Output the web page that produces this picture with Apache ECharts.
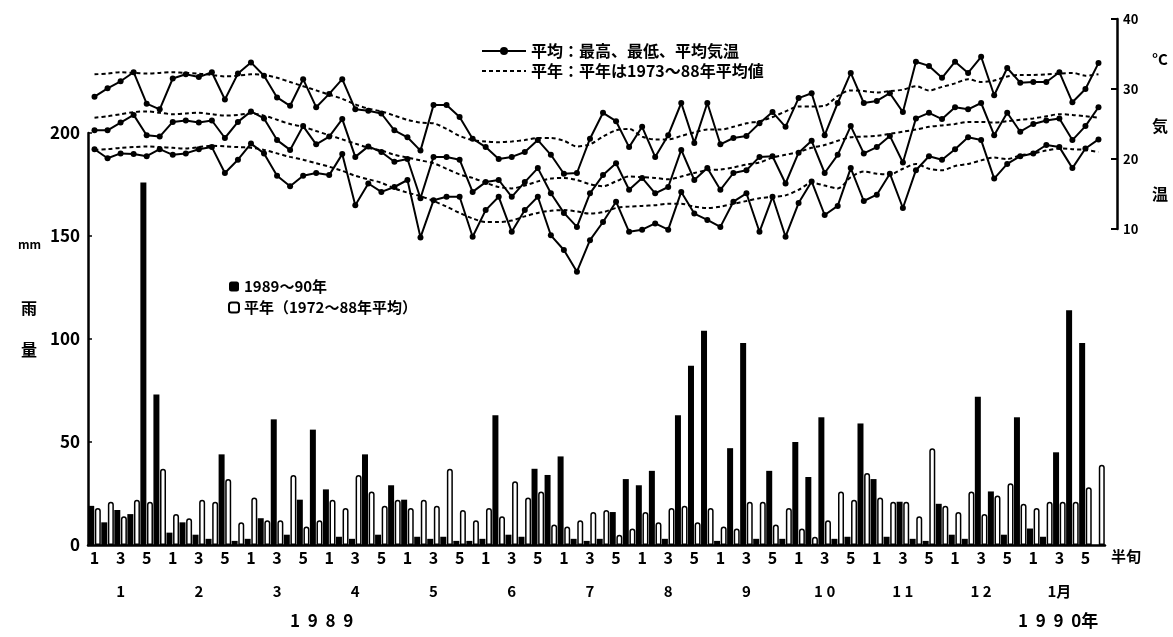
<!DOCTYPE html>
<html style="height:100%">
<head>
    <meta charset="utf-8">
    <title>半旬別 雨量・気温</title>
<script src="https://cdn.jsdelivr.net/npm/echarts@6/dist/echarts.min.js"></script>
</head>
<body style="height:100%;margin:0;background:#fff">
    <div id="main" style="width:1173px;height:637px"></div>
    <script type="text/javascript">
        // 13 months x 6 half-decades (半旬)
        var months = ['1', '2', '3', '4', '5', '6', '7', '8', '9', '1 0', '1 1', '1 2', '1月'];
        var periodTicks = ['1', '', '3', '', '5', ''];

        // 雨量 mm
        var rain = [
            19, 11, 17, 15, 176, 73,   6, 11, 5, 3, 44, 2,   3, 13, 61, 5, 22, 56,
            27, 4, 3, 44, 5, 29,   22, 4, 3, 4, 2, 2,   3, 63, 5, 4, 37, 34,
            43, 3, 2, 3, 16, 32,   29, 36, 3, 63, 87, 104,   2, 47, 98, 3, 36, 3,
            50, 33, 62, 3, 4, 59,   32, 4, 21, 3, 2, 20,   5, 3, 72, 26, 5, 62,
            8, 4, 45, 114, 98, 0
        ];
        var rainNormal = [
            18, 21, 14, 22, 21, 37,   15, 13, 22, 21, 32, 11,   23, 12, 12, 34, 9, 12,
            22, 18, 34, 26, 19, 22,   18, 22, 19, 37, 17, 12,   18, 14, 31, 23, 26, 10,
            9, 12, 16, 17, 5, 8,   16, 11, 18, 19, 11, 18,   9, 8, 21, 21, 10, 18,
            8, 4, 12, 26, 22, 35,   23, 21, 21, 14, 47, 19,   16, 26, 15, 24, 30, 20,
            18, 21, 21, 21, 28, 39
        ];

        // 気温 °C
        var tMax = [
            28.9, 30.1, 31.1, 32.4, 27.9, 27.1,   31.5, 32.1, 31.7, 32.4, 28.5, 32.2,
            33.8, 31.9, 28.8, 27.6, 31.4, 27.4,   29.3, 31.4, 27.1, 26.9, 26.5, 24.1,
            23.1, 21.2, 27.7, 27.7, 26.0, 22.9,   21.7, 20.0, 20.3, 21.0, 22.7, 20.6,
            17.9, 18.0, 22.9, 26.6, 25.4, 21.7,   24.6, 20.3, 23.4, 28.0, 22.3, 28.0,
            22.1, 23.0, 23.3, 25.1, 26.7, 24.6,   28.7, 29.4, 23.4, 28.0, 32.3, 28.0,
            28.3, 29.4, 26.7, 33.9, 33.3, 31.6,   33.9, 32.3, 34.6, 29.1, 33.0, 30.9,
            31.0, 31.0, 32.4, 28.1, 30.0, 33.7
        ];
        var tMean = [
            24.1, 24.1, 25.2, 26.3, 23.4, 23.2,   25.3, 25.5, 25.2, 25.5, 23.0, 25.3,
            26.8, 25.8, 22.7, 21.3, 24.7, 22.1,   23.2, 25.7, 20.3, 21.8, 21.0, 19.6,
            20.0, 14.4, 20.3, 20.3, 19.9, 15.3,   16.7, 17.0, 14.6, 16.7, 18.7, 15.1,
            12.3, 10.3, 15.1, 17.7, 19.4, 15.6,   17.3, 15.1, 16.0, 21.3, 17.0, 18.7,
            15.6, 18.0, 18.4, 20.3, 20.4, 16.5,   20.9, 22.6, 18.0, 20.6, 24.7, 20.8,
            21.7, 23.3, 19.5, 25.8, 26.6, 25.7,   27.4, 27.1, 28.0, 23.4, 26.6, 23.9,
            25.0, 25.5, 25.8, 22.7, 24.7, 27.4
        ];
        var tMin = [
            21.4, 20.1, 20.8, 20.7, 20.4, 21.4,   20.6, 20.8, 21.4, 21.7, 18.0, 19.9,
            22.2, 20.8, 17.6, 16.1, 17.6, 18.0,   17.7, 20.7, 13.4, 16.5, 15.3, 16.0,
            17.0, 8.8, 14.1, 14.6, 14.6, 8.9,   12.7, 14.6, 9.6, 12.7, 14.6, 9.1,
            7.0, 3.9, 8.4, 11.0, 13.9, 9.6,   9.9, 10.8, 9.9, 15.3, 12.2, 11.3,
            10.3, 13.9, 15.1, 9.6, 14.6, 8.9,   13.7, 16.8, 12.0, 13.3, 18.7, 14.0,
            14.9, 17.9, 13.0, 18.4, 20.4, 19.9,   21.4, 23.1, 22.7, 17.2, 19.3, 20.4,
            20.8, 22.0, 21.7, 18.7, 21.5, 22.8
        ];

        // 平年値
        var nMax = [
            32.1, 32.2, 32.4, 32.3, 32.2, 32.3,   32.4, 32.3, 32.2, 32.0, 31.8, 31.9,
            32.1, 32.0, 31.6, 31.0, 30.4, 29.8,   29.2, 28.6, 27.8, 27.2, 26.8, 26.2,
            25.6, 25.2, 25.1, 24.3, 23.3, 22.7,   22.5, 22.4, 22.5, 22.7, 23.0, 23.0,
            22.6, 21.8, 22.1, 23.2, 24.1, 24.3,   23.2, 22.8, 22.8, 23.3, 23.8, 24.2,
            24.2, 24.6, 25.1, 25.4, 26.0, 26.8,   27.5, 27.5, 27.6, 29.0, 29.8, 29.7,
            29.5, 29.7, 29.9, 30.4, 29.8, 30.3,   30.8, 31.4, 31.0, 31.2, 31.8, 32.0,
            32.0, 32.1, 32.2, 32.3, 31.9, 32.1
        ];
        var nMean = [
            25.9, 26.1, 26.4, 26.7, 26.8, 26.6,   26.4, 26.5, 26.6, 26.4, 26.2, 26.3,
            26.5, 26.2, 25.6, 25.0, 24.6, 24.0,   23.4, 22.8, 22.2, 21.6, 21.2, 20.6,
            20.2, 19.8, 19.4, 18.6, 17.8, 17.3,   16.6, 16.0, 15.8, 16.2, 16.8, 17.2,
            17.3, 17.0, 16.4, 16.1, 16.8, 17.5,   17.4, 17.3, 17.1, 17.5, 18.0, 18.4,
            18.5, 18.8, 19.2, 19.5, 20.2, 20.6,   21.0, 21.6, 22.0, 22.6, 23.1, 23.2,
            23.3, 23.6, 23.9, 24.2, 24.6, 24.8,   25.0, 25.3, 25.3, 25.2, 25.4, 25.6,
            25.8, 26.1, 26.4, 26.3, 26.1, 25.9
        ];
        var nMin = [
            21.3, 21.4, 21.6, 21.7, 21.8, 21.7,   21.6, 21.5, 21.7, 21.9, 21.8, 21.7,
            21.6, 21.3, 20.8, 20.3, 19.9, 19.4,   18.9, 18.3, 17.6, 17.1, 16.6, 15.8,
            15.2, 14.7, 14.0, 13.2, 12.3, 11.5,   11.0, 11.0, 11.2, 11.8, 12.3, 12.6,
            12.7, 12.5, 12.2, 12.4, 13.0, 13.2,   13.3, 13.4, 13.6, 13.6, 13.2, 13.0,
            13.2, 13.6, 14.0, 14.4, 14.6, 14.8,   15.6, 16.6, 16.2, 15.8, 17.4, 18.2,
            17.9, 17.8, 18.6, 19.3, 18.6, 18.4,   19.0, 19.3, 19.8, 20.2, 20.0, 20.5,
            20.8, 21.2, 21.5, 21.4, 21.3, 21.0
        ];

        var periods = [];
        months.forEach(function (m) {
            for (var k = 0; k < 6; k++) periods.push(m + '-' + (k + 1));
        });

        var FONT = '"Noto Sans CJK JP", "Noto Sans", sans-serif';
        var LEG_LINE = '平均：最高、最低、平均気温';
        var LEG_NORM = '平年：平年は1973～88年平均値';

        function solid(data) {
            return {
                type: 'line', name: LEG_LINE, data: data,
                xAxisIndex: 1, yAxisIndex: 1, clip: false,
                symbol: 'circle', symbolSize: 6,
                itemStyle: {color: '#000'},
                lineStyle: {color: '#000', width: 2},
                z: 5
            };
        }
        function dashed(data) {
            return {
                type: 'line', name: LEG_NORM, data: data,
                xAxisIndex: 1, yAxisIndex: 1, clip: false,
                symbol: 'none', smooth: 0.3,
                itemStyle: {color: '#000'},
                lineStyle: {color: '#000', width: 2, type: [4, 3]},
                z: 4
            };
        }

        var myChart = echarts.init(document.getElementById('main'));
        myChart.setOption({
            animation: false,
            backgroundColor: '#fff',
            textStyle: {fontFamily: FONT, color: '#000'},
            grid: [
                {left: 88, right: 68, top: 133, bottom: 92, outerBoundsMode: 'none'},
                {left: 88, right: 68, top: 19, bottom: 408, outerBoundsMode: 'none'}
            ],
            legend: [
                {
                    data: [LEG_LINE, {name: LEG_NORM, itemStyle: {opacity: 0}}],
                    left: 476, top: 38, orient: 'vertical',
                    itemGap: 4, itemWidth: 44, itemHeight: 10, selectedMode: false,
                    textStyle: {fontSize: 16, fontWeight: 'bold', color: '#000', fontFamily: FONT}
                },
                {
                    data: ['1989～90年', '平年（1972～88年平均）'], left: 223, top: 274,
                    orient: 'vertical', itemGap: 6, itemWidth: 10, itemHeight: 10, selectedMode: false,
                    textStyle: {fontSize: 15, fontWeight: 'bold', color: '#000', fontFamily: FONT}
                }
            ],
            xAxis: [
                {
                    type: 'category', gridIndex: 0, data: periods,
                    name: '半旬', nameLocation: 'end', nameGap: 6,
                    nameTextStyle: {fontSize: 15, fontWeight: 'bold', color: '#000', verticalAlign: 'top', padding: [4, 0, 0, 0]},
                    axisLine: {lineStyle: {color: '#000', width: 2.5}},
                    axisTick: {show: false},
                    axisLabel: {
                        interval: 0, margin: 2, color: '#000',
                        formatter: function (v, i) {
                            var k = i % 6;
                            if (!periodTicks[k]) return '';
                            if (k === 2) return '{n|3}\n{m|' + months[Math.floor(i / 6)] + '}';
                            return '{n|' + periodTicks[k] + '}';
                        },
                        rich: {
                            n: {fontSize: 16, fontWeight: 'bold', lineHeight: 22, fontFamily: FONT},
                            m: {fontSize: 15, fontWeight: 'bold', lineHeight: 44, fontFamily: FONT}
                        }
                    }
                },
                {type: 'category', gridIndex: 1, data: periods, show: false}
            ],
            yAxis: [
                {
                    type: 'value', gridIndex: 0, min: 0, max: 200, interval: 50,
                    axisLine: {show: true, lineStyle: {color: '#000', width: 2.5}},
                    axisTick: {show: true, inside: true, length: 4, lineStyle: {color: '#000', width: 1.5}},
                    axisLabel: {fontSize: 17, fontWeight: 'bold', color: '#000', margin: 8},
                    splitLine: {show: false}
                },
                {
                    type: 'value', gridIndex: 1, position: 'right', offset: 12,
                    min: 10, max: 40, interval: 10,
                    axisLine: {show: true, lineStyle: {color: '#000', width: 2.5}},
                    axisTick: {show: true, inside: true, length: 6, lineStyle: {color: '#000', width: 2}},
                    axisLabel: {fontSize: 13, fontWeight: 'bold', color: '#000', margin: 6},
                    splitLine: {show: false}
                }
            ],
            series: [
                {
                    type: 'bar', name: '1989～90年', data: rain,
                    xAxisIndex: 0, yAxisIndex: 0,
                    barWidth: 6, barGap: '10%',
                    itemStyle: {color: '#000'}
                },
                {
                    type: 'bar', name: '平年（1972～88年平均）', data: rainNormal,
                    xAxisIndex: 0, yAxisIndex: 0,
                    barWidth: 6,
                    itemStyle: {color: '#fff', borderColor: '#000', borderWidth: 1.5, borderRadius: [3, 3, 0, 0]}
                },
                solid(tMax), solid(tMean), solid(tMin),
                dashed(nMax), dashed(nMean), dashed(nMin)
            ],
            graphic: [
                {type: 'text', left: 18, top: 238, style: {text: 'mm', font: 'bold 12px ' + FONT, fill: '#000'}},
                {type: 'text', left: 21, top: 300, style: {text: '雨', font: 'bold 16px ' + FONT, fill: '#000'}},
                {type: 'text', left: 21, top: 342, style: {text: '量', font: 'bold 16px ' + FONT, fill: '#000'}},
                {type: 'text', left: 1152, top: 52, style: {text: '°C', font: 'bold 15px ' + FONT, fill: '#000'}},
                {type: 'text', left: 1152, top: 118, style: {text: '気', font: 'bold 16px ' + FONT, fill: '#000'}},
                {type: 'text', left: 1152, top: 186, style: {text: '温', font: 'bold 16px ' + FONT, fill: '#000'}},
                {type: 'text', left: 290, top: 612, style: {text: '1  9  8  9', font: 'bold 17px ' + FONT, fill: '#000'}},
                {type: 'text', left: 1018, top: 612, style: {text: '1  9  9  0年', font: 'bold 17px ' + FONT, fill: '#000'}}
            ]
        });
    </script>
</body>
</html>
